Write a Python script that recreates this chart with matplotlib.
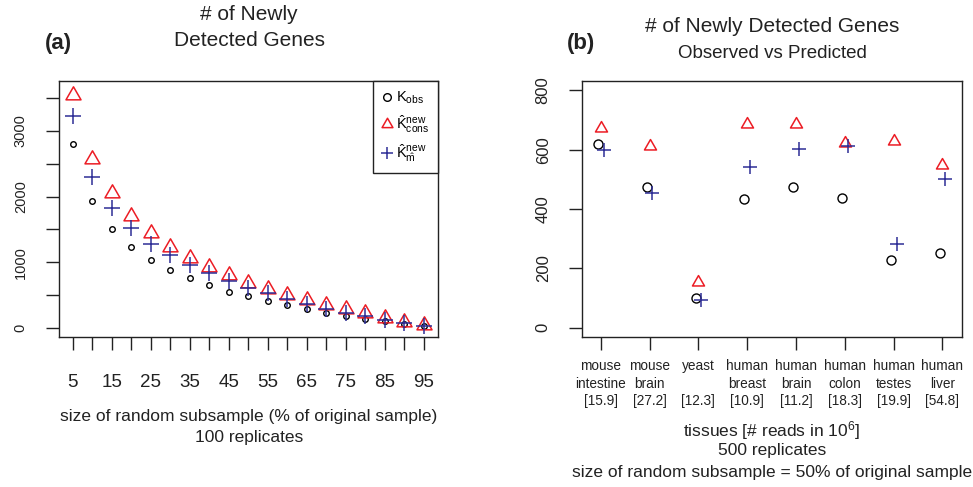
import matplotlib
matplotlib.use("Agg")
import matplotlib.pyplot as plt
from matplotlib.lines import Line2D
from matplotlib.path import Path
import numpy as np

plt.rcParams['font.family'] = ['Liberation Sans', 'DejaVu Sans']
plt.rcParams['mathtext.fontset'] = 'custom'
plt.rcParams['mathtext.rm'] = 'Liberation Sans'
plt.rcParams['mathtext.it'] = 'Liberation Sans:italic'
plt.rcParams['mathtext.bf'] = 'Liberation Sans:bold'

# ---------------- data: panel (a) ----------------
pct = [5, 10, 15, 20, 25, 30, 35, 40, 45, 50, 55, 60, 65, 70, 75, 80, 85, 90, 95]
k_obs = [2799, 1932, 1506, 1232, 1034, 877, 756, 649, 553, 482, 411, 345, 284, 233, 188, 137, 101, 66, 35]
k_cons = [3545, 2566, 2049, 1704, 1441, 1238, 1070, 928, 807, 690, 589, 502, 421, 350, 284, 224, 158, 97, 46]
k_m = [3225, 2297, 1831, 1521, 1283, 1116, 963, 837, 715, 614, 527, 441, 365, 294, 233, 183, 122, 76, 30]
a_yticks = [0, 500, 1000, 1500, 2000, 2500, 3000, 3500]
a_yticklabels = ['0', '', '1000', '', '2000', '', '3000', '']
a_xticklabels = ['5', '', '15', '', '25', '', '35', '', '45', '', '55', '', '65', '', '75', '', '85', '', '95']

# ---------------- data: panel (b) ----------------
species = ['mouse', 'mouse', 'yeast', 'human', 'human', 'human', 'human', 'human']
tissue = ['intestine', 'brain', '', 'breast', 'brain', 'colon', 'testes', 'liver']
reads = ['15.9', '27.2', '12.3', '10.9', '11.2', '18.3', '19.9', '54.8']
obs_b = [620, 474, 100, 435, 474, 437, 228, 253]
cons_b = [672, 614, 153, 686, 686, 622, 631, 548]
m_b = [599, 455, 93, 543, 602, 613, 282, 502]
b_yticks = [0, 200, 400, 600, 800]

RED = '#ec1c24'
BLUE = '#2e2e96'
DARK = '#222222'

tri = Path([(0, 1), (-0.866, -0.5), (0.866, -0.5), (0, 1)],
           [Path.MOVETO, Path.LINETO, Path.LINETO, Path.CLOSEPOLY])

W, H = 973, 487
fig = plt.figure(figsize=(W / 100, H / 100), dpi=100)


def fx(px):
    return px / W


def fy(py):
    return 1 - py / H


def style_axes(ax):
    for s in ax.spines.values():
        s.set_linewidth(1.0)
        s.set_color(DARK)
    ax.tick_params(length=9.5, width=1.0, color=DARK, labelcolor=DARK)


# ---------------- panel (a) ----------------
axa = fig.add_axes([fx(59), fy(337), fx(438 - 59), (337 - 81) / H])
style_axes(axa)
axa.plot(pct, k_obs, ls='none', marker='o', mfc='none', mec='black', ms=4.0, mew=1.0)
axa.plot(pct, k_cons, ls='none', marker=tri, mfc='none', mec=RED, ms=12.5, mew=1.1)
axa.plot(pct, k_m, ls='none', marker='+', color=BLUE, ms=12, mew=1.1)
axa.set_xlim(1.5, 98.6)
axa.set_ylim(-137, 3758)
axa.set_xticks(pct)
axa.set_xticklabels(a_xticklabels, fontsize=13.5)
axa.set_yticks(a_yticks)
axa.set_yticklabels(a_yticklabels, fontsize=10.5, rotation=90, va='center')
axa.tick_params(axis='x', pad=17)
axa.tick_params(axis='y', pad=13)

handles = [
    Line2D([], [], ls='none', marker='o', mfc='none', mec='black', ms=5.5, mew=1.0),
    Line2D([], [], ls='none', marker=tri, mfc='none', mec=RED, ms=9, mew=1.1),
    Line2D([], [], ls='none', marker='+', color=BLUE, ms=8, mew=1.1),
]
labels = [r'$\mathrm{K_{obs}}$',
          r'$\hat{\mathrm{K}}^{\mathrm{new}}_{\mathrm{cons}}$',
          r'$\hat{\mathrm{K}}^{\mathrm{new}}_{\hat{\mathrm{m}}}$']
leg = axa.legend(handles, labels, loc='upper right', bbox_to_anchor=(1, 1),
                 borderaxespad=0, fancybox=False, edgecolor=DARK, framealpha=1,
                 fontsize=10.5, handlelength=0.6, handletextpad=0.35,
                 labelspacing=0.5, borderpad=0.6)
leg.get_frame().set_linewidth(1.0)

fig.text(fx(249), fy(20), '# of Newly', fontsize=15, ha='center', va='baseline', color=DARK)
fig.text(fx(249), fy(45.7), 'Detected Genes', fontsize=15, ha='center', va='baseline', color=DARK)
fig.text(fx(58), fy(49), '(a)', fontsize=16, fontweight='bold', ha='center', va='baseline', color=DARK)
fig.text(fx(249), fy(420.7), 'size of random subsample (% of original sample)', fontsize=12.5,
         ha='center', va='baseline', color=DARK)
fig.text(fx(249), fy(441.7), '100 replicates', fontsize=12.5, ha='center', va='baseline', color=DARK)

# ---------------- panel (b) ----------------
axb = fig.add_axes([fx(582), fy(337), fx(962 - 582), (337 - 81) / H])
style_axes(axb)
xb = np.arange(1, len(species) + 1)
axb.plot(xb - 0.055, obs_b, ls='none', marker='o', mfc='none', mec='black', ms=6.5, mew=1.0)
axb.plot(xb, cons_b, ls='none', marker=tri, mfc='none', mec=RED, ms=10, mew=1.1)
axb.plot(xb + 0.06, m_b, ls='none', marker='+', color=BLUE, ms=9.5, mew=1.1)
axb.set_xlim(0.617, 8.40)
axb.set_ylim(-32, 832)
axb.set_xticks(xb)
axb.set_xticklabels([f'{s}\n{t}\n[{r}]' for s, t, r in zip(species, tissue, reads)],
                    fontsize=9.8, linespacing=1.3)
axb.set_yticks(b_yticks)
axb.set_yticklabels([str(v) for v in b_yticks], fontsize=12, rotation=90, va='center')
axb.tick_params(axis='x', pad=6.5)
axb.tick_params(axis='y', pad=13)

fig.text(fx(772), fy(32.3), '# of Newly Detected Genes', fontsize=15, ha='center', va='baseline', color=DARK)
fig.text(fx(772), fy(58.3), 'Observed vs Predicted', fontsize=13.5, ha='center', va='baseline', color=DARK)
fig.text(fx(581), fy(49), '(b)', fontsize=16, fontweight='bold', ha='center', va='baseline', color=DARK)
fig.text(fx(772), fy(436.7), r'tissues [# reads in 10$^{6}$]', fontsize=12.5, ha='center', va='baseline', color=DARK)
fig.text(fx(772), fy(455.5), '500 replicates', fontsize=12.5, ha='center', va='baseline', color=DARK)
fig.text(fx(772), fy(477.3), 'size of random subsample = 50% of original sample', fontsize=12.5,
         ha='center', va='baseline', color=DARK)

fig.savefig('out.png', dpi=100)
